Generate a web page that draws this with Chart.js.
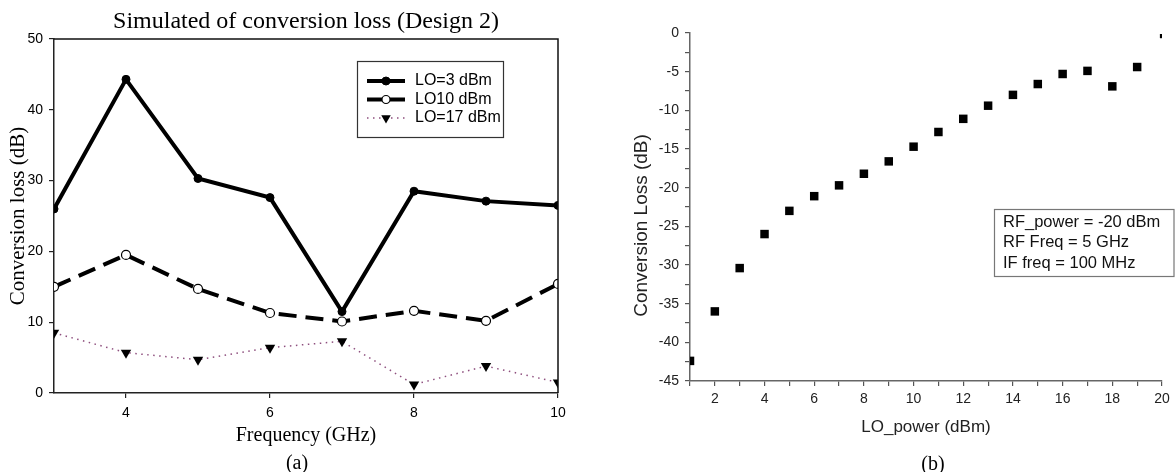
<!DOCTYPE html>
<html><head><meta charset="utf-8">
<script src="https://cdn.jsdelivr.net/npm/chart.js@4.4.1/dist/chart.umd.min.js"></script>
<style>
html,body{margin:0;padding:0;background:#fff;}
#wrap{position:relative;width:1175px;height:472px;overflow:hidden;background:#fff;}
canvas{position:absolute;top:0;}
#ca{left:0;}
#cb{left:600px;}
.cap{position:absolute;font-family:'Liberation Serif','Times New Roman',serif;font-size:20px;color:#000;transform:translate(-50%,-50%);line-height:1;white-space:nowrap;}
</style></head>
<body><div id="wrap">
<canvas id="ca" width="600" height="472"></canvas>
<canvas id="cb" width="575" height="472"></canvas>
<div class="cap" style="left:297px;top:462px;">(a)</div>
<div class="cap" style="left:933px;top:463px;">(b)</div>
</div>
<script>
// ---- Chart (a) data ----
const freqGHz = [3, 4, 5, 6, 7, 8, 9, 10];
const lo3dBm  = [26.0, 44.3, 30.3, 27.6, 11.5, 28.5, 27.1, 26.5];
const lo10dBm = [15.0, 19.5, 14.7, 11.3, 10.1, 11.6, 10.2, 15.4];
const lo17dBm = [8.5, 5.7, 4.7, 6.4, 7.3, 1.2, 3.8, 1.5];
const freqTicks = [4, 6, 8, 10];
const seriesLabelsA = ['LO=3 dBm', 'LO10 dBm', 'LO=17 dBm'];

// ---- Chart (b) data ----
const loPower = [1, 2, 3, 4, 5, 6, 7, 8, 9, 10, 11, 12, 13, 14, 15, 16, 17, 18, 19, 20];
const convLoss = [-42.4, -36.0, -30.4, -26.0, -23.0, -21.1, -19.7, -18.2, -16.6, -14.7,
                  -12.8, -11.1, -9.4, -8.0, -6.6, -5.3, -4.9, -6.9, -4.4, -0.4];
const annotLines = ['RF_power = -20 dBm', 'RF Freq = 5 GHz', 'IF freq = 100 MHz'];

const SERIF = "'Liberation Serif','Times New Roman',serif";
const SANS = "'Liberation Sans',Arial,sans-serif";
Chart.defaults.font.family = SANS;
Chart.defaults.color = '#000';

const pts = (xs, ys) => xs.map((x, i) => ({x: x, y: ys[i]}));

const centerTitle = {
  id: 'centerTitle',
  afterLayout(chart) {
    const t = chart.titleBlock, a = chart.chartArea;
    if (t && a) { t.left = a.left; t.right = a.right; t.width = a.right - a.left; }
  }
};

const frameA = {
  id: 'frameA',
  afterDraw(chart) {
    const a = chart.chartArea, ctx = chart.ctx;
    ctx.save();
    ctx.strokeStyle = '#111'; ctx.lineWidth = 1.5;
    ctx.beginPath();
    ctx.moveTo(a.left, a.top); ctx.lineTo(a.right, a.top); ctx.lineTo(a.right, a.bottom);
    ctx.stroke();
    ctx.restore();
  }
};

const boxLegend = {
  id: 'boxLegend',
  afterDraw(chart) {
    const ctx = chart.ctx, a = chart.chartArea;
    const x0 = a.left + 303, y0 = a.top + 22, w = 146, h = 76;
    ctx.save();
    ctx.fillStyle = '#fff'; ctx.fillRect(x0, y0, w, h);
    ctx.strokeStyle = '#333'; ctx.lineWidth = 1.2; ctx.strokeRect(x0 + 0.5, y0 + 0.5, w, h);
    chart.data.datasets.forEach((ds, i) => {
      const y = y0 + 20 + i * 18.5;
      const lx0 = x0 + 10, lx1 = x0 + 48, mx = (lx0 + lx1) / 2;
      ctx.save();
      ctx.strokeStyle = ds.borderColor; ctx.lineWidth = ds.borderWidth;
      ctx.setLineDash(ds.legendDash || []);
      ctx.beginPath(); ctx.moveTo(lx0, y); ctx.lineTo(lx1, y); ctx.stroke();
      ctx.restore();
      ctx.save();
      ctx.fillStyle = ds.pointBackgroundColor; ctx.strokeStyle = ds.pointBorderColor;
      ctx.lineWidth = ds.pointBorderWidth;
      Chart.helpers.drawPoint(ctx, {pointStyle: ds.pointStyle, rotation: ds.pointRotation || 0,
        radius: ds.legendRadius, borderWidth: ds.pointBorderWidth}, mx, y);
      ctx.restore();
      ctx.fillStyle = '#000'; ctx.font = '16px ' + SANS;
      ctx.textBaseline = 'middle'; ctx.textAlign = 'left';
      ctx.fillText(ds.label, x0 + 58, y);
    });
    ctx.restore();
  }
};

new Chart(document.getElementById('ca'), {
  type: 'line',
  data: {
    datasets: [
      { label: seriesLabelsA[0], data: pts(freqGHz, lo3dBm), borderColor: '#000', borderWidth: 4,
        pointStyle: 'circle', pointRadius: 4, legendRadius: 4, pointBackgroundColor: '#000',
        pointBorderColor: '#000', pointBorderWidth: 1, tension: 0, legendDash: [] },
      { label: seriesLabelsA[1], data: pts(freqGHz, lo10dBm), borderColor: '#000', borderWidth: 4,
        borderDash: [18, 9], pointStyle: 'circle', pointRadius: 4.5, legendRadius: 4,
        pointBackgroundColor: '#fff', pointBorderColor: '#000', pointBorderWidth: 1.2, tension: 0,
        legendDash: [15, 8] },
      { label: seriesLabelsA[2], data: pts(freqGHz, lo17dBm), borderColor: '#8e4f7e', borderWidth: 1.5,
        borderDash: [1.5, 4.5], pointStyle: 'triangle', pointRotation: 180, pointRadius: 6,
        legendRadius: 5.5, pointBackgroundColor: '#000', pointBorderColor: '#000', pointBorderWidth: 0,
        tension: 0, legendDash: [1.5, 4.5] }
    ]
  },
  options: {
    responsive: false, animation: false,
    layout: { padding: { left: 0, right: 42, top: 0, bottom: 24 } },
    plugins: {
      legend: { display: false },
      tooltip: { enabled: false },
      title: { display: true, text: 'Simulated of conversion loss (Design 2)',
        font: { family: SERIF, size: 24, weight: 'normal' }, color: '#000',
        padding: { top: 7.6, bottom: 2.6 } }
    },
    scales: {
      x: {
        type: 'linear', min: 3, max: 10,
        afterBuildTicks(scale) { scale.ticks = freqTicks.map(v => ({ value: v })); },
        afterFit(scale) { scale.height = 55; },
        grid: { drawOnChartArea: false, drawTicks: true, tickLength: 5, color: '#222', lineWidth: 1.2 },
        border: { display: true, color: '#222', width: 1.5 },
        ticks: { font: { size: 14 }, color: '#000', padding: 7, maxRotation: 0, autoSkip: false },
        title: { display: true, text: 'Frequency (GHz)', font: { family: SERIF, size: 20 },
          color: '#000', padding: { top: 0, bottom: 0 } }
      },
      y: {
        min: 0, max: 50,
        ticks: { stepSize: 10, font: { size: 14 }, color: '#000', padding: 6 },
        afterFit(scale) { scale.width = 54; },
        grid: { drawOnChartArea: false, drawTicks: true, tickLength: 5, color: '#222', lineWidth: 1.2 },
        border: { display: true, color: '#222', width: 1.5 },
        title: { display: true, text: 'Conversion loss (dB)', font: { family: SERIF, size: 21 },
          color: '#000', padding: { top: 6, bottom: 0 } }
      }
    }
  },
  plugins: [centerTitle, frameA, boxLegend]
});

const annotBox = {
  id: 'annotBox',
  afterDraw(chart) {
    const ctx = chart.ctx, a = chart.chartArea;
    const x0 = a.right - 168, y0 = a.top + 176, w = chart.width - 1 - x0, h = 67;
    ctx.save();
    ctx.fillStyle = '#fff'; ctx.fillRect(x0, y0, w, h);
    ctx.strokeStyle = '#777'; ctx.lineWidth = 1.2; ctx.strokeRect(x0 + 0.5, y0 + 0.5, w - 0.5, h);
    ctx.fillStyle = '#111'; ctx.font = '16.5px ' + SANS;
    ctx.textBaseline = 'middle'; ctx.textAlign = 'left';
    annotLines.forEach((t, i) => ctx.fillText(t, x0 + 9, y0 + 13 + i * 20.5));
    ctx.restore();
  }
};

new Chart(document.getElementById('cb'), {
  type: 'scatter',
  data: {
    datasets: [{
      label: 'Conversion Loss', data: pts(loPower, convLoss),
      pointStyle: 'rect', pointRadius: loPower.map((v, i) => i === loPower.length - 1 ? 3 : 6),
      backgroundColor: '#000', borderColor: '#000', pointBorderWidth: 0, showLine: false, clip: 0
    }]
  },
  options: {
    responsive: false, animation: false,
    layout: { padding: { left: 0, right: 13, top: 33, bottom: 34.8 } },
    plugins: { legend: { display: false }, tooltip: { enabled: false } },
    scales: {
      x: {
        type: 'linear', min: 1, max: 20,
        afterFit(scale) { scale.height = 56.2; },
        ticks: { stepSize: 1, autoSkip: false, maxRotation: 0, font: { size: 14 }, color: '#222', padding: 5,
          callback: v => (v % 2 === 0 ? String(v) : '') },
        grid: { drawOnChartArea: false, drawTicks: true, tickLength: 5, color: '#555', lineWidth: 1.2 },
        border: { display: true, color: '#666', width: 1.5 },
        title: { display: true, text: 'LO_power (dBm)', font: { size: 17 }, color: '#222',
          padding: { top: 0, bottom: 0 } }
      },
      y: {
        min: -45, max: 0,
        afterFit(scale) { scale.width = 90; },
        ticks: { stepSize: 2.5, autoSkip: false, font: { size: 14 }, color: '#222', padding: 6,
          callback: v => (v % 5 === 0 ? String(v) : '') },
        grid: { drawOnChartArea: false, drawTicks: true, tickLength: 5, color: '#555', lineWidth: 1.2 },
        border: { display: true, color: '#666', width: 1.5 },
        title: { display: true, text: 'Conversion Loss (dB)       ', font: { size: 19 }, color: '#222',
          padding: { top: 30.6, bottom: 0 } }
      }
    }
  },
  plugins: [annotBox]
});
</script>
</body></html>
